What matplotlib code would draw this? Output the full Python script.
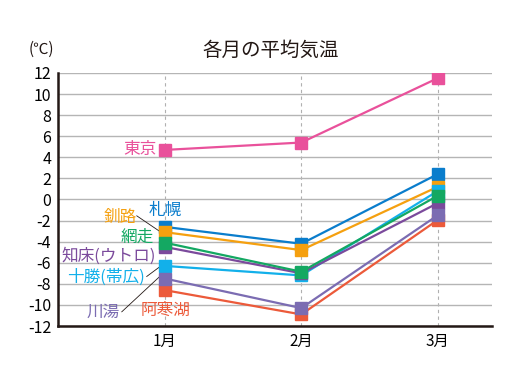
import matplotlib
matplotlib.use("Agg")
import matplotlib.pyplot as plt

plt.rcParams['font.family'] = ['Noto Sans CJK JP', 'DejaVu Sans']

months = ["1月", "2月", "3月"]

# 各地点の月平均気温 (℃)
tokyo = [4.7, 5.4, 11.5]
sapporo = [-2.6, -4.2, 2.4]
kushiro = [-3.1, -4.8, 1.2]
obihiro = [-6.3, -7.2, 0.8]
utoro = [-4.5, -7.0, -0.35]
abashiri = [-4.1, -6.85, 0.35]
akanko = [-8.6, -10.9, -1.95]
kawayu = [-7.5, -10.3, -1.5]

# (名前, 値, 色) -- 描画順
series = [
    ("東京", tokyo, "#e9519b"),
    ("札幌", sapporo, "#0a7dcc"),
    ("釧路", kushiro, "#f5a00f"),
    ("十勝(帯広)", obihiro, "#12b0ea"),
    ("知床(ウトロ)", utoro, "#7b4a9c"),
    ("網走", abashiri, "#14a862"),
    ("阿寒湖", akanko, "#ec5a3a"),
    ("川湯", kawayu, "#7b6cb2"),
]

fig = plt.figure(figsize=(5.2, 3.9), dpi=100)
ax = fig.add_axes([0.1115, 0.164, 0.835, 0.649])

x = range(len(months))
for name, vals, col in series:
    ax.plot(x, vals, color=col, lw=1.6, marker="s", ms=8, mec=col, zorder=3)

ax.set_xlim(-0.785, 2.40)
ax.set_ylim(-12, 12)
ax.set_yticks(range(-12, 13, 2))
ax.set_yticklabels([str(v) for v in range(-12, 13, 2)], fontsize=11.5)
ax.set_xticks(list(x))
ax.set_xticklabels(months, fontsize=11)
ax.tick_params(length=0, pad=5)
ax.tick_params(axis="x", pad=5)

ax.grid(axis="y", color="#b5b5b5", lw=1)
for xi in x:
    ax.axvline(xi, color="#b0b0b0", lw=0.8, ls=(0, (3, 3)), zorder=1)
for s in ["top", "right"]:
    ax.spines[s].set_visible(False)
ax.spines["left"].set_linewidth(1.8)
ax.spines["bottom"].set_linewidth(1.8)
ax.spines["left"].set_color("#231815")
ax.spines["bottom"].set_color("#231815")

# ラベル
fs = 12
cols = {n: c for n, _, c in series}
ax.text(-0.06, tokyo[0], "東京", color=cols["東京"], fontsize=fs, ha="right", va="center")
ax.text(-0.12, -1.0, "札幌", color=cols["札幌"], fontsize=fs, ha="left", va="center")
ax.text(-0.205, -1.75, "釧路", color=cols["釧路"], fontsize=fs, ha="right", va="center")
ax.text(-0.085, -3.6, "網走", color=cols["網走"], fontsize=fs, ha="right", va="center")
ax.text(-0.07, -5.4, "知床(ウトロ)", color=cols["知床(ウトロ)"], fontsize=fs,
        ha="right", va="center")
ax.text(-0.145, -7.35, "十勝(帯広)", color=cols["十勝(帯広)"], fontsize=fs,
        ha="right", va="center")
ax.text(-0.335, -10.7, "川湯", color=cols["川湯"], fontsize=fs, ha="right", va="center")
ax.text(-0.18, -10.5, "阿寒湖", color=cols["阿寒湖"], fontsize=fs, ha="left", va="center")

# 引き出し線
ax.plot([-0.207, -0.03], [-1.55, -3.1], color="#231815", lw=0.6, zorder=2)
ax.plot([-0.134, -0.03], [-7.3, -6.3], color="#231815", lw=0.6, zorder=2)
ax.plot([-0.317, -0.03], [-10.65, -7.2], color="#231815", lw=0.6, zorder=2)

fig.text(0.08, 0.873, "(℃)", fontsize=11, ha="center", va="center", color="#231815")
fig.text(0.52, 0.87, "各月の平均気温", fontsize=14, ha="center", va="center", color="#231815")

fig.savefig("out.png", dpi=100)
